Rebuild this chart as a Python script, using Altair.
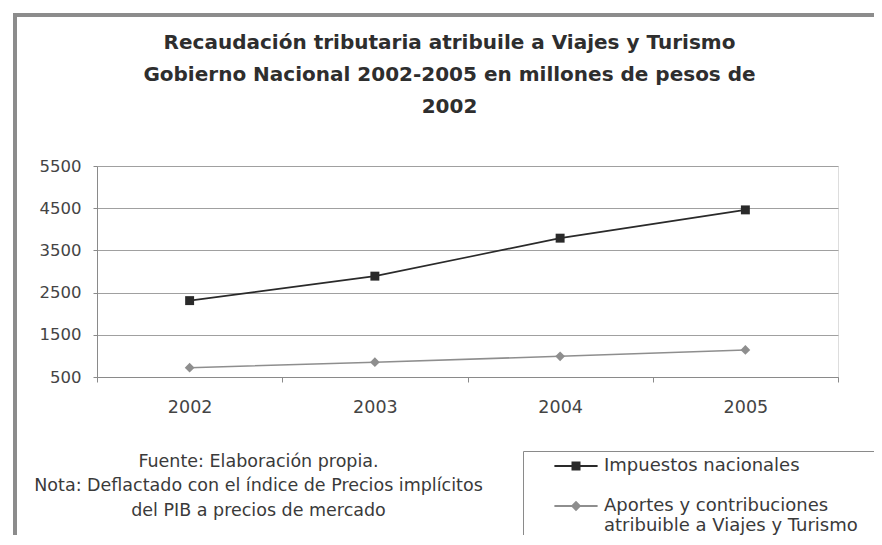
import altair as alt
import pandas as pd

# ---- data ----
years = ["2002", "2003", "2004", "2005"]
impuestos = [2310, 2890, 3790, 4460]
aportes = [720, 850, 990, 1140]
series = ["Impuestos nacionales",
          "Aportes y contribuciones atribuible a Viajes y Turismo"]
y_ticks = [500, 1500, 2500, 3500, 4500, 5500]
title_lines = ["Recaudación tributaria atribuile a Viajes y Turismo",
               "Gobierno Nacional 2002-2005 en millones de pesos de",
               "2002"]
note_lines = ["Fuente: Elaboración propia.",
              "Nota: Deflactado con el índice de Precios implícitos",
              "del PIB a precios de mercado"]

rows = []
for s, vals in zip(series, [impuestos, aportes]):
    for yr, v in zip(years, vals):
        rows.append({"anio": yr, "valor": v, "serie": s})
df = pd.DataFrame(rows)

# ---- styling ----
FONT = "DejaVu Sans"
colors = ["#2a2a2a", "#8e8e8e"]
legend_paths = [
    "M-4.8,-0.2H4.8V0.2H-4.8Z M-1,-1H1V1H-1Z",
    "M-4.8,-0.2H4.8V0.2H-4.8Z M0,-1.15L1.15,0L0,1.15L-1.15,0Z",
]
color_scale = alt.Scale(domain=series, range=colors)

x_enc = alt.X(
    "anio:O",
    scale=alt.Scale(type="band", paddingInner=0, paddingOuter=0),
    axis=alt.Axis(
        title=note_lines, titleX=161, titleY=75, titleAlign="center",
        titleAnchor="start", titleBaseline="top", titleFont=FONT,
        titleFontSize=17.5, titleFontWeight="normal", titleColor="#3a3a3a",
        titleLineHeight=24.5, labelAngle=0, tickBand="extent",
        labelFont=FONT, labelFontSize=17.5, labelColor="#444444",
        labelPadding=16, tickSize=5, tickColor="#8a8a8a",
        domainColor="#8a8a8a", grid=False,
    ),
)
y_enc = alt.Y(
    "valor:Q",
    scale=alt.Scale(domain=[500, 5500], nice=False, zero=False),
    axis=alt.Axis(
        title=None, values=y_ticks, format="d", grid=True,
        gridColor="#a0a0a0", gridWidth=1, labelFont=FONT, labelFontSize=16.5,
        labelColor="#444444", labelPadding=12, tickSize=4,
        tickColor="#8a8a8a", domainColor="#8a8a8a",
    ),
)

base = alt.Chart(df)


def only(i):
    return base.transform_filter(alt.datum.serie == series[i])


line_imp = only(0).mark_line(strokeWidth=1.6, color=colors[0]).encode(x=x_enc, y=y_enc)
line_apo = only(1).mark_line(strokeWidth=1.6, color=colors[1]).encode(x=x_enc, y=y_enc)
squares = only(0).mark_point(
    shape="square", filled=True, size=80, opacity=1, color=colors[0]
).encode(x=x_enc, y=y_enc)
diamonds = only(1).mark_point(
    shape="diamond", filled=True, size=95, opacity=1, color=colors[1]
).encode(x=x_enc, y=y_enc)

legend_props = dict(
    title=None, orient="none", legendX=426, legendY=285,
    strokeColor="#8a8a8a", padding=6, symbolOpacity=1, symbolSize=81,
    symbolOffset=38, labelOffset=19, labelFont=FONT, labelFontSize=18,
    labelColor="#3a3a3a", labelLimit=600, rowPadding=22,
    symbolStrokeWidth=0,
    labelExpr=("datum.label == '" + series[1] + "' ? "
               "['Aportes y contribuciones', "
               "'atribuible a Viajes y Turismo\u2800\u2800\u2800\u2800'] : datum.label"),
)
legend_layer = base.mark_point(filled=True, opacity=0).encode(
    x=x_enc, y=y_enc,
    color=alt.Color("serie:N", scale=color_scale,
                    legend=alt.Legend(**legend_props)),
    shape=alt.Shape("serie:N",
                    scale=alt.Scale(domain=series, range=legend_paths),
                    legend=alt.Legend(**legend_props)),
)

frame_data = alt.Data(values=[{"k": 1}])
frame_top = alt.Chart(frame_data).mark_rule(
    color="#8c8c8c", strokeWidth=4
).encode(x=alt.value(-84), x2=alt.value(800), y=alt.value(-151))
frame_left = alt.Chart(frame_data).mark_rule(
    color="#8c8c8c", strokeWidth=4
).encode(x=alt.value(-82), y=alt.value(-153), y2=alt.value(420))

chart = alt.layer(
    frame_top, frame_left, line_imp, line_apo, squares, diamonds, legend_layer
).properties(
    width=741, height=211,
    autosize=alt.AutoSizeParams(type="none"),
    padding={"left": 89, "top": 158, "right": 36, "bottom": 158},
    title=alt.Title(
        text=title_lines, font=FONT, fontSize=20, fontWeight="bold",
        color="#2e2e2e", lineHeight=32, anchor="middle", dx=-18, offset=-106,
    ),
).configure_view(
    stroke="#9a9a9a", strokeWidth=1
).configure(background="white")

chart.save("out.html", embed_options={"renderer": "svg", "actions": False})
